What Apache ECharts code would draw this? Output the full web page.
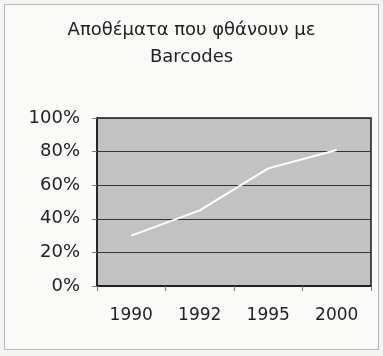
<!DOCTYPE html>
<html>
<head>
<meta charset="utf-8">
<script src="https://cdn.jsdelivr.net/npm/echarts@6/dist/echarts.min.js"></script>
<style>
  html, body { margin: 0; padding: 0; background: #f4f4f2; }
  #frame { position: absolute; left: 4px; top: 4px; width: 373px; height: 344px; border: 1px solid #b8b8b8; background: #fafaf9; }
  #mychart { position: absolute; left: 0; top: 0; width: 383px; height: 356px; }
</style>
</head>
<body>
<div id="frame"></div>
<div id="mychart"></div>
<script>
  // δεδομένα
  const years = ['1990', '1992', '1995', '2000']
  const shares = [30, 45, 70, 81]
  const yTicks = [0, 20, 40, 60, 80, 100]

  const chartDom = document.getElementById('mychart')
  const myChart = echarts.init(chartDom)

  const font = 'DejaVu Sans'

  const option = {
      animation: false,
      title: {
          text: 'Αποθέματα που φθάνουν με\nBarcodes',
          left: 'center',
          top: 12,
          textStyle: {
              fontFamily: font,
              fontSize: 18,
              fontWeight: 'normal',
              color: '#222',
              lineHeight: 27
          }
      },
      grid: {
          left: 97,
          right: 12,
          top: 118,
          bottom: 70,
          show: true,
          backgroundColor: '#c2c2c2',
          borderColor: '#1a1a1a',
          borderWidth: 1.5
      },
      xAxis: {
          type: 'category',
          data: years,
          boundaryGap: true,
          axisLine: { show: true, lineStyle: { color: '#1a1a1a', width: 1.5 } },
          axisTick: { show: true, length: 5, lineStyle: { color: '#777' } },
          axisLabel: {
              margin: 21,
              fontFamily: font,
              fontSize: 17,
              color: '#222'
          }
      },
      yAxis: {
          type: 'value',
          min: yTicks[0],
          max: yTicks[yTicks.length - 1],
          interval: 20,
          axisLine: { show: true, lineStyle: { color: '#1a1a1a', width: 1.5 } },
          axisTick: { show: true, length: 5, lineStyle: { color: '#777' } },
          splitLine: { show: true, lineStyle: { color: '#333', width: 1.2 } },
          axisLabel: {
              margin: 17,
              fontFamily: font,
              fontSize: 18,
              color: '#222',
              formatter: '{value}%'
          }
      },
      series: [{
          type: 'line',
          data: shares,
          symbol: 'none',
          lineStyle: { color: '#ffffff', width: 2 }
      }]
  }

  myChart.setOption(option)
</script>
</body>
</html>
